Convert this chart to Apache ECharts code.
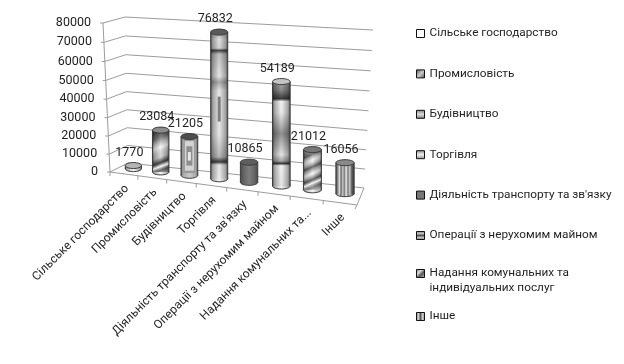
<!DOCTYPE html>
<html><head><meta charset="utf-8">
<style>html,body{margin:0;padding:0;background:#fff}#c{width:624px;height:364px}</style>
<script src="https://cdn.jsdelivr.net/npm/echarts@6/dist/echarts.min.js"></script>
</head><body><div id="c"></div>
<script>
const categories = ["Сільське господарство","Промисловість","Будівництво","Торгівля","Діяльність транспорту та зв'язку","Операції з нерухомим майном","Надання комунальних та індивідуальних послуг","Інше"];
const axisLabels = ["Сільське господарство","Промисловість","Будівництво","Торгівля","Діяльність транспорту та зв'язку","Операції з нерухомим майном","Надання комунальних та...","Інше"];
const legendNames = ["Сільське господарство","Промисловість","Будівництво","Торгівля","Діяльність транспорту та зв'язку","Операції з нерухомим майном","Надання комунальних та\nіндивідуальних послуг","Інше"];
const values = [1770,23084,21205,76832,10865,54189,21012,16056];
const yTicks = [0,10000,20000,30000,40000,50000,60000,70000,80000];

const FONT = 'Roboto, "Noto Sans", sans-serif';
const TXT = '#1f1f1f', GRID = '#9c9c9c';
// corners of the drawn 3D box
const box = {
  fb:[[110,172],[357,205]], bb:[[128,163],[364,188]],
  ft:[[103,23],[366,40]],   bt:[[125,17],[373,30]]
};
const mix=(a,b,t)=>[a[0]+(b[0]-a[0])*t,a[1]+(b[1]-a[1])*t];
function project(u0,d,v){
  const u=.89*u0+.11*u0*u0;          // perspective along the floor
  const w=.955*v+.045*v*v;           // perspective along the height
  const bot=mix(mix(box.fb[0],box.fb[1],u),mix(box.bb[0],box.bb[1],u),d);
  const top=mix(mix(box.ft[0],box.ft[1],u),mix(box.bt[0],box.bt[1],u),d);
  return mix(bot,top,w);
}
function gr(horizontal,stops){
  return {type:'linear',x:0,y:0,x2:horizontal?1:0,y2:horizontal?0:1,colorStops:stops.map(s=>({offset:s[0],color:s[1]}))};
}
function diag(stops){return {type:'linear',x:0,y:0,x2:1,y2:1,colorStops:stops.map(s=>({offset:s[0],color:s[1]}))};}
const k=a=>'rgba(0,0,0,'+a+')', wh=a=>'rgba(255,255,255,'+a+')';
const shade=gr(true,[[0,'#5a5a5a'],[.12,'#a8a8a8'],[.5,'#f4f4f4'],[.88,'#a8a8a8'],[1,'#5a5a5a']]);
const looks=[
 {base:shade,cap:'#b4b4b4',over:[]},
 {base:shade,cap:'#8c8c8c',over:[diag([[0,k(.75)],[.22,k(.45)],[.42,wh(.3)],[.62,k(.1)],[.74,k(.7)],[.82,wh(.75)],[.9,k(.55)],[1,k(.2)]])]},
 {base:gr(true,[[0,'#5a5a5a'],[.12,'#a8a8a8'],[.5,'#c8c8c8'],[.88,'#a8a8a8'],[1,'#5a5a5a']]),cap:'#4d4d4d',over:[],
  inset:[[6,.06,.94,'#9a9a9a'],[4.5,.12,.88,'#d4d4d4'],[3,.25,.75,'#8e8e8e'],[1.5,.4,.62,'#e8e8e8']]},
 {base:shade,cap:'#5a5a5a',over:[gr(false,[[0,k(.3)],[.05,k(.08)],[.11,k(.12)],[.125,k(.7)],[.15,k(.2)],[.3,k(.05)],[.34,k(.3)],[.4,k(.05)],[.7,k(.05)],[.85,k(.25)],[.885,k(.75)],[.905,k(.05)],[1,k(.03)]])],
  inset:[[1.5,.44,.61,'#7e7e7e']]},
 {base:gr(true,[[0,'#4a4a4a'],[.2,'#666'],[.5,'#7e7e7e'],[.8,'#666'],[1,'#4a4a4a']]),cap:'#5e5e5e',over:[]},
 {base:shade,cap:'#c4c4c4',over:[gr(false,[[0,k(.3)],[.08,k(.42)],[.165,k(.75)],[.19,k(0)],[.3,k(.03)],[.5,k(.4)],[.7,k(.05)],[.76,k(.3)],[.785,k(.75)],[.805,k(0)],[1,k(.06)]])]},
 {base:shade,cap:'#777',over:[diag([[0,k(.1)],[.18,k(.5)],[.3,wh(.2)],[.44,k(.55)],[.58,wh(.35)],[.7,k(.55)],[.78,wh(.85)],[.88,k(.4)],[1,wh(.4)]])]},
 {base:gr(true,[[0,'#444'],[.1,'#888'],[.2,'#ddd'],[.28,'#666'],[.38,'#ccc'],[.46,'#777'],[.56,'#eee'],[.66,'#777'],[.76,'#ccc'],[.86,'#666'],[1,'#333']]),cap:'#8a8a8a',over:[]}
];
const legendFills=['#ffffff',diag([[0,'#444'],[.5,'#ccc'],[1,'#444']]),gr(false,[[0,'#777'],[.5,'#ddd'],[1,'#777']]),gr(false,[[0,'#888'],[.5,'#eee'],[1,'#888']]),'#777777',
 gr(false,[[0,'#555'],[.25,'#ccc'],[.5,'#555'],[.75,'#ccc'],[1,'#555']]),diag([[0,'#666'],[.35,'#ddd'],[.6,'#555'],[1,'#ccc']]),gr(true,[[0,'#555'],[.25,'#ddd'],[.5,'#555'],[.75,'#ddd'],[1,'#555']])];

function toUV(api,params,val){
  const cs=params.coordSys, p=api.coord(val);
  return [(p[0]-cs.x)/cs.width,1-(p[1]-cs.y)/cs.height];
}
const BAR_D=.55, RY=3;
function renderBar(idx){
  return function(params,api){
    const uv=toUV(api,params,[api.value(0),api.value(1)]);
    const B=project(uv[0],BAR_D,0), T=project(uv[0],BAR_D,uv[1]);
    const RX=8+uv[0]*1.2;
    const cx=(B[0]+T[0])/2, l=cx-RX, h=B[1]-T[1], look=looks[idx];
    const ch=[];
    const ell=(y,fill)=>({type:'ellipse',shape:{cx,cy:y,rx:RX,ry:RY},style:{fill,stroke:'#3c3c3c',lineWidth:1}});
    const body=(fill)=>({type:'rect',shape:{x:l,y:T[1],width:RX*2,height:h},style:{fill}});
    ch.push(ell(B[1],look.base));
    ch.push(body(look.base));
    look.over.forEach(f=>ch.push(body(f)));
    (look.inset||[]).forEach(s=>ch.push({type:'rect',shape:{x:cx-s[0],y:T[1]+h*s[1],width:s[0]*2,height:h*(s[2]-s[1])},style:{fill:s[3]}}));
    ch.push({type:'line',shape:{x1:l,y1:T[1],x2:l,y2:B[1]},style:{stroke:'#3c3c3c',lineWidth:1}});
    ch.push({type:'line',shape:{x1:l+RX*2,y1:T[1],x2:l+RX*2,y2:B[1]},style:{stroke:'#3c3c3c',lineWidth:1}});
    ch.push(ell(T[1],look.cap));
    ch.push({type:'text',x:cx-4,y:T[1]-13,style:{text:String(api.value(1)),font:'12.5px '+FONT,fill:TXT,align:'center',verticalAlign:'middle'}});
    return {type:'group',children:ch};
  };
}
function renderTick(params,api){
  const val=api.value(0), v=toUV(api,params,[0,val])[1];
  const F=project(0,0,v), K=project(0,1,v), R=project(1,1,v);
  const ln=(a,b)=>({type:'line',shape:{x1:a[0],y1:a[1],x2:b[0],y2:b[1]},style:{stroke:GRID,lineWidth:1}});
  return {type:'group',children:[
    ln(F,K),ln(K,R),ln([F[0]-3,F[1]],F),
    {type:'text',x:F[0]-12,y:F[1],style:{text:String(val),font:'12.5px '+FONT,fill:TXT,align:'right',verticalAlign:'middle'}}
  ]};
}
function renderFrame(params,api){
  const n=categories.length, ch=[];
  const ln=(a,b)=>({type:'line',shape:{x1:a[0],y1:a[1],x2:b[0],y2:b[1]},style:{stroke:GRID,lineWidth:1}});
  ch.push(ln(project(0,0,0),project(0,0,1)));
  ch.push(ln(project(0,0,0),project(1,0,0)));
  ch.push(ln(project(1,0,0),project(1,1,0)));
  for(let i=0;i<=n;i++){const p=project(i/n,0,0);ch.push(ln(p,[p[0]-(i===n?2:0),p[1]+4]));}
  return {type:'group',children:ch};
}
function renderCat(params,api){
  const i=api.value(0), u=toUV(api,params,[i,0])[0], p=project(u,0,0);
  return {type:'text',x:p[0]+3,y:p[1]+13,rotation:Math.PI/4,style:{text:axisLabels[i],font:'12px '+FONT,fill:TXT,align:'right',verticalAlign:'middle'}};
}
const barSeries=categories.map((c,i)=>({
  type:'custom',name:legendNames[i],coordinateSystem:'cartesian2d',z:3,silent:true,
  itemStyle:{color:legendFills[i]},
  data:[[i,values[i]]],renderItem:renderBar(i)
}));
const lg=(names,top,extra)=>Object.assign({
  orient:'vertical',left:411,top,itemWidth:8,itemHeight:8,itemGap:25.4,selectedMode:false,icon:'rect',
  itemStyle:{borderColor:'#111',borderWidth:1},
  textStyle:{fontFamily:FONT,fontSize:11.8,color:TXT,lineHeight:15},
  data:names
},extra||{});
const chart=echarts.init(document.getElementById('c'),null,{renderer:'canvas'});
chart.setOption({
  animation:false,backgroundColor:'#fff',
  grid:{left:110,top:20,width:260,height:180},
  xAxis:{type:'category',data:categories,show:false},
  yAxis:{type:'value',min:0,max:80000,interval:10000,show:false},
  legend:[
    lg(legendNames.slice(0,6),21),
    lg([legendNames[6]],246,{formatter:v=>'\n'+v}),
    lg([legendNames[7]],304)
  ],
  series:[
    {type:'custom',name:'ticks',coordinateSystem:'cartesian2d',z:1,silent:true,data:yTicks.map(t=>[t]),encode:{x:-1,y:0},renderItem:renderTick},
    {type:'custom',name:'frame',coordinateSystem:'cartesian2d',z:1,silent:true,data:[[0]],encode:{x:-1,y:-1},renderItem:renderFrame},
    {type:'custom',name:'cats',coordinateSystem:'cartesian2d',z:2,silent:true,data:categories.map((c,i)=>[i]),encode:{x:0,y:-1},renderItem:renderCat}
  ].concat(barSeries)
});
</script></body></html>
